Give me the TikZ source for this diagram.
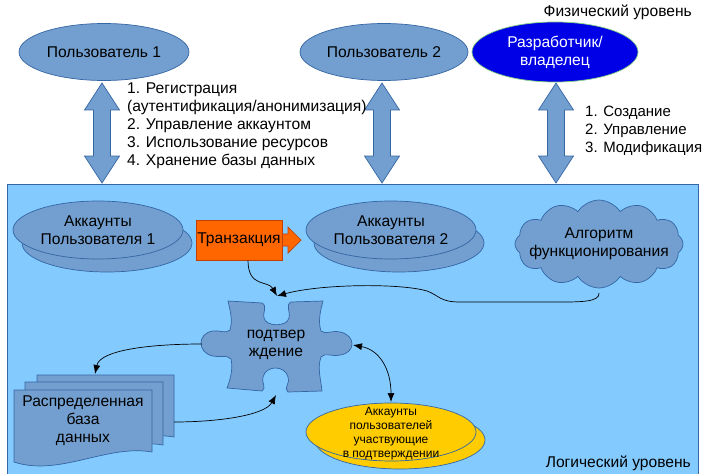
\documentclass[tikz,border=0pt]{standalone}
\usepackage{fontspec}
\setmainfont{Liberation Sans}
\usetikzlibrary{shapes.geometric,shapes.symbols,arrows.meta}
\definecolor{bgblue}{HTML}{83CAFF}
\definecolor{ellfill}{HTML}{729FCF}
\definecolor{bord}{HTML}{3465A4}
\definecolor{devblue}{HTML}{0000E6}
\definecolor{devbord}{HTML}{7FD07F}
\definecolor{trorange}{HTML}{FF6600}
\definecolor{trbord}{HTML}{C04000}
\definecolor{yell}{HTML}{FFCC00}
\tikzset{
  ellbase/.style={ellipse, draw=bord, fill=ellfill, line width=0.7pt, minimum width=170pt, minimum height=58pt, inner sep=0pt, align=center, font=\fontsize{15.6}{18}\selectfont},
  yellbase/.style={ellbase, fill=yell, font=\fontsize{12}{14}\selectfont},
  blockarrow/.style={draw=bord, fill=ellfill, line width=0.7pt},
  docshape/.style={draw=bord, fill=ellfill, line width=0.7pt},
  conn/.style={draw=black, line width=0.7pt, -{Latex[length=9pt,width=7pt]}},
  lbl/.style={font=\fontsize{15.6}{18}\selectfont, align=left, inner sep=0pt}
}
\newcommand{\dblarrow}[3]{% x, ytop, ybottom
  \path[blockarrow] (#1,#2) -- ++(17.5,27) -- ++(-9,0) -- (#1+8.5,#3-27) -- ++(9,0) -- (#1,#3) -- ++(-17.5,-27) -- ++(9,0) -- (#1-8.5,#2+27) -- ++(-9,0) -- cycle;}
\begin{document}
\begin{tikzpicture}[x=1pt,y=-1pt]
\useasboundingbox (0,0) rectangle (708,473);
\fill[white] (0,0) rectangle (708,473);
% logical level
\path[draw=bord, fill=bgblue, line width=0.7pt] (7,184) rectangle (698,480);
\node[lbl, anchor=east] (phys) at (692,12) {Физический уровень};
\node[lbl, anchor=east] (logic) at (691,463) {Логический уровень};
% physical level ellipses
\node[ellbase, minimum width=170pt, minimum height=57pt] (u1) at (104,52) {Пользователь 1};
\node[ellbase, minimum width=168pt, minimum height=57pt] (u2) at (384,52) {Пользователь 2};
\node[ellbase, fill=devblue, draw=devbord, text=white, minimum width=166pt, minimum height=60pt] (dev) at (555,52) {Разработчик/\\владелец};
% block arrows
\dblarrow{102}{83}{183}
\dblarrow{382}{83}{183}
\dblarrow{556}{83}{183}
\node[lbl, anchor=west] (list1) at (127,126) {1. Регистрация\\(аутентификация/анонимизация)\\2. Управление аккаунтом\\3. Использование ресурсов\\4. Хранение базы данных};
\node[lbl, anchor=west, font=\fontsize{15}{18}\selectfont] (list2) at (585,131) {1. Создание\\2. Управление\\3. Модификация};
% accounts
\node[ellbase] (acc1b) at (107,243) {};
\node[ellbase] (acc1) at (98,230) {Аккаунты\\Пользователя 1};
\node[ellbase] (acc2b) at (399,243) {};
\node[ellbase] (acc2) at (391,230) {Аккаунты\\Пользователя 2};
% transaction
\path[draw=trbord, fill=trorange, line width=0.7pt] (270,234) -- (288,234) -- (288,227) -- (301,240) -- (288,253) -- (288,246) -- (270,246) -- cycle;
\node[draw=trbord, fill=trorange, line width=0.7pt, minimum width=86pt, minimum height=40pt, inner sep=0pt, font=\fontsize{15.6}{18}\selectfont] (tr) at (239,240) {Транзакция};
% cloud
\node[cloud, draw=bord, fill=ellfill, line width=0.7pt, cloud puffs=12, cloud puff arc=115, aspect=1.8, minimum width=168pt, minimum height=88pt, inner sep=0pt] (alg) at (599,244) {};
\node[lbl, align=center] (algt) at (599,244) {Алгоритм\\функционирования};
\coordinate (algB) at (599,293);
% puzzle piece
\path[draw=bord, fill=ellfill, line width=0.7pt]
 (228,301) -- (262,303)
 .. controls (268,306) and (262,314) .. (264,318)
 .. controls (266,327) and (287,327) .. (289,318)
 .. controls (291,313) and (285,305) .. (291,302)
 -- (323,301)
 .. controls (320,312) and (318,322) .. (321,331)
 .. controls (326,335) and (332,330) .. (340,332)
 .. controls (356,335) and (356,353) .. (340,355)
 .. controls (332,357) and (325,352) .. (321,357)
 .. controls (317,368) and (321,380) .. (322,391)
 -- (288,392)
 .. controls (283,388) and (291,382) .. (288,377)
 .. controls (285,365) and (266,365) .. (263,377)
 .. controls (261,382) and (267,388) .. (262,391)
 -- (227,388)
 .. controls (231,378) and (233,368) .. (231,359)
 .. controls (226,354) and (220,358) .. (213,356)
 .. controls (197,353) and (197,333) .. (213,331)
 .. controls (220,330) and (226,334) .. (230,330)
 .. controls (233,320) and (230,310) .. (228,301) -- cycle;
\node[lbl, align=center] (pz) at (276,345) {подтвер\\ждение};
\coordinate (pzT) at (277,296);
\coordinate (pzL) at (202,344);
\coordinate (pzR) at (353,345);
\coordinate (pzB) at (276,395);
% distributed database
\path[docshape] (37,375) -- (174,375) -- (174,437) .. controls (129,429) and (82,462) .. (37,447) -- cycle;
\path[docshape] (25,382) -- (163,382) -- (163,445) .. controls (118,437) and (70,470) .. (25,455) -- cycle;
\path[docshape] (14,390) -- (152,390) -- (152,452) .. controls (107,444) and (59,477) .. (14,462) -- cycle;
\node[lbl, align=center] (db) at (83,421) {Распределенная\\база\\данных};
\coordinate (dbT) at (95,374);
\coordinate (dbR) at (174,422);
% yellow accounts
\node[yellbase] (yb) at (400,440) {};
\node[yellbase] (ya) at (391,432) {};
\node[font=\fontsize{12}{14}\selectfont, align=center, inner sep=0pt] (yt) at (391,434) {Аккаунты\\пользователей\\участвующие\\в подтверждении};
\coordinate (yT) at (391,402);
% connectors
\draw[conn] (tr.south -| 248,0) .. controls (248,288) and (268,280) .. (pzT);
\draw[conn] (algB) .. controls (600,302) and (580,302) .. (560,302) -- (460,302) .. controls (440,302) and (440,296) .. (427,291) .. controls (400,283) and (320,284) .. (pzT);
\draw[conn] (pzL) .. controls (150,344) and (100,350) .. (dbT);
\draw[conn] (dbR) .. controls (220,422) and (265,415) .. (pzB);
\draw[conn, {Latex[length=9pt,width=7pt]}-{Latex[length=9pt,width=7pt]}] (pzR) .. controls (380,350) and (391,370) .. (yT);
\end{tikzpicture}
\end{document}
